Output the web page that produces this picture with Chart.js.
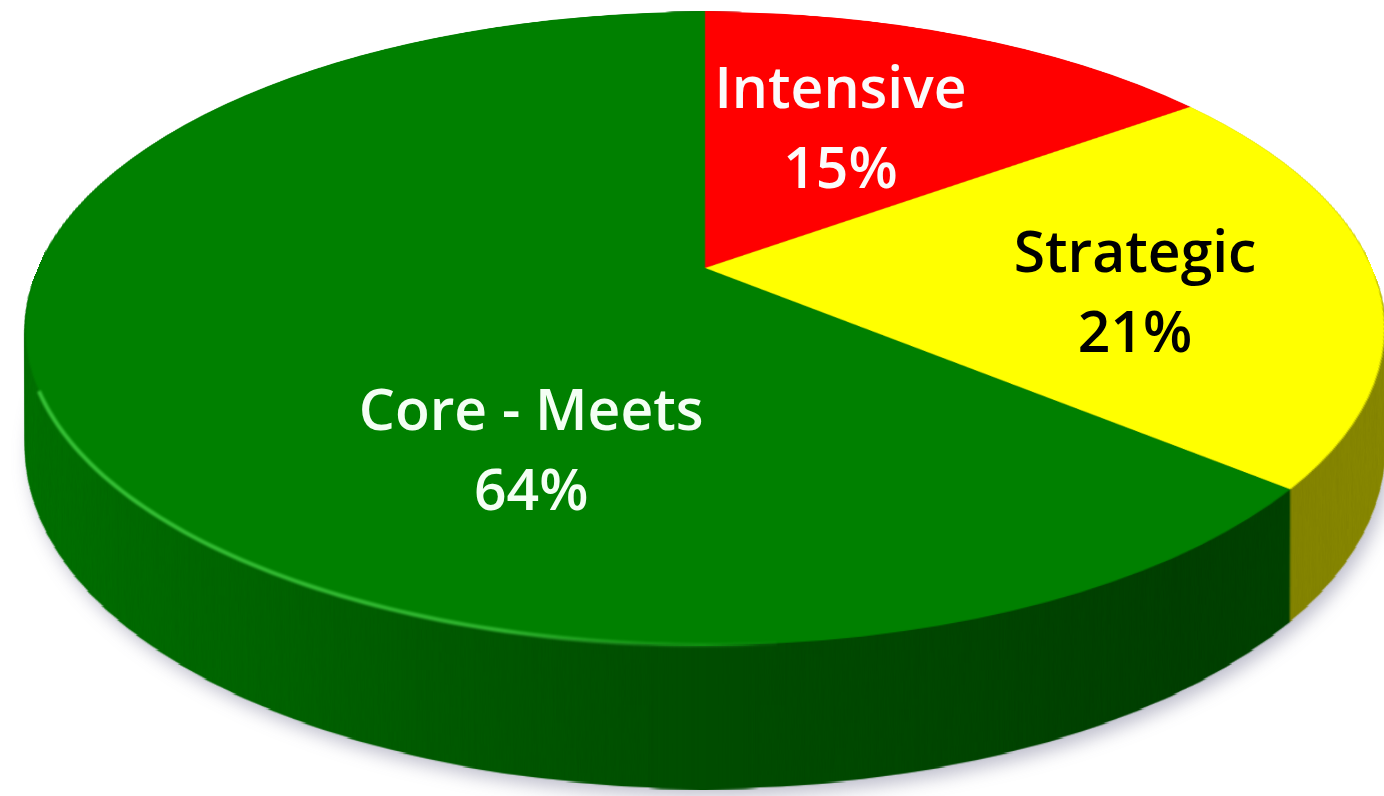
<!DOCTYPE html>
<html>
<head>
<meta charset="utf-8">
<script src="https://cdn.jsdelivr.net/npm/chart.js@4.4.1/dist/chart.umd.min.js"></script>
<style>
    html, body { margin: 0; padding: 0; background: #ffffff; }
    #wrap { width: 1384px; height: 796px; position: relative; }
</style>
</head>
<body>
<div id="wrap"><canvas id="pieCanvas"></canvas></div>
<script>
const categories = ['Intensive', 'Strategic', 'Core - Meets'];
const shares = [15, 21, 64];

const topColors = ['#ff0000', '#ffff00', '#008000'];
const labelColors = ['#fbfbfb', '#000000', '#f4fff4'];
// label spot per slice: [fraction along the slice angle, fraction of radius]
const labelSpots = [[0.45, 0.54], [0.58, 0.64], [0.32, 0.59]];

// tilted disc seen in perspective: centre, half axes, foreshortening, thickness
const view = { cx: 705, cy: 268, a: 667, b: 305, k: 0.191, depth: 116.5 };

function project(u, w) {
    const d = 1 / (1 + view.k * w);
    return { x: view.cx + view.a * u * d, y: view.cy - view.b * w * d, d: d };
}

function rowDepth(y) {
    const s = (view.cy - y) / view.b;
    return s / (1 - view.k * s);
}

// paint the flat pie (as laid out by Chart.js) into its own square canvas
function renderFlat(arcs, R, S, shaded) {
    const c = document.createElement('canvas');
    c.width = S;
    c.height = S;
    const g = c.getContext('2d');
    g.translate(R - arcs[0].x, R - arcs[0].y);
    arcs.forEach(a => a.draw(g));
    if (shaded) {
        g.setTransform(1, 0, 0, 1, 0, 0);
        g.globalCompositeOperation = 'source-atop';
        const grad = g.createLinearGradient(0, 0, S, 0);
        grad.addColorStop(0, 'rgba(0,0,0,0.10)');
        grad.addColorStop(0.22, 'rgba(0,0,0,0.22)');
        grad.addColorStop(0.5, 'rgba(0,0,0,0.40)');
        grad.addColorStop(0.8, 'rgba(0,0,0,0.50)');
        grad.addColorStop(1, 'rgba(0,0,0,0.46)');
        g.fillStyle = grad;
        g.fillRect(0, 0, S, S);
    }
    return c;
}

// copy the flat pie onto the chart row by row, squeezed into perspective
function warp(ctx, src, R, S, stretch) {
    const top = Math.floor(view.cy - view.b / (1 + view.k));
    const bottom = Math.ceil(view.cy + view.b / (1 - view.k));
    for (let y = top; y < bottom; y++) {
        const w0 = Math.min(1, rowDepth(y));
        const w1 = Math.max(-1, rowDepth(y + 1));
        if (w0 <= w1) continue;
        const sy = R * (1 - w0);
        const sh = R * (w0 - w1);
        const d = 1 / (1 + view.k * (w0 + w1) / 2);
        const h = stretch ? 1 + view.depth * d : 1;
        ctx.drawImage(src, 0, sy, S, sh, view.cx - view.a * d, y, 2 * view.a * d, h);
    }
}

function rimPath(ctx, drop, dx, dy, from, to) {
    ctx.beginPath();
    for (let i = from; i <= to; i += 1) {
        const t = i * Math.PI / 180;
        const p = project(Math.sin(t), Math.cos(t));
        const x = p.x + dx;
        const y = p.y + drop * p.d + dy;
        if (i === from) ctx.moveTo(x, y); else ctx.lineTo(x, y);
    }
}

function drawShadow(ctx) {
    ctx.save();
    ctx.filter = 'blur(9px)';
    ctx.fillStyle = 'rgba(70,70,110,0.35)';
    rimPath(ctx, view.depth, 5, 7, 0, 360);
    ctx.closePath();
    ctx.fill();
    ctx.restore();
}

// bevel highlight along the front-left edge of the top face
function drawRimLight(ctx) {
    ctx.save();
    ctx.filter = 'blur(0.8px)';
    const grad = ctx.createLinearGradient(20, 0, 820, 0);
    grad.addColorStop(0, 'rgba(55,195,55,1)');
    grad.addColorStop(0.6, 'rgba(50,185,50,0.95)');
    grad.addColorStop(1, 'rgba(40,170,40,0)');
    ctx.strokeStyle = grad;
    ctx.lineWidth = 4;
    rimPath(ctx, 0, 0, 0, 175, 248);
    ctx.stroke();
    ctx.restore();
}

function drawLabels(ctx, chart, arcs) {
    ctx.save();
    ctx.font = '600 57px "Open Sans"';
    ctx.textAlign = 'center';
    ctx.textBaseline = 'middle';
    arcs.forEach((arc, i) => {
        const [f, r] = labelSpots[i];
        const ang = arc.startAngle + f * (arc.endAngle - arc.startAngle);
        const p = project(r * Math.cos(ang), -r * Math.sin(ang));
        ctx.fillStyle = labelColors[i];
        ctx.fillText(chart.data.labels[i], p.x, p.y - 39);
        ctx.fillText(chart.data.datasets[0].data[i] + '%', p.x, p.y + 41);
    });
    ctx.restore();
}

const tiltedPie = {
    id: 'tiltedPie',
    beforeDatasetsDraw(chart) {
        const arcs = chart.getDatasetMeta(0).data;
        if (!arcs.length) return;
        const R = arcs[0].outerRadius;
        const S = Math.ceil(R * 2);
        const flat = renderFlat(arcs, R, S, false);
        const side = renderFlat(arcs, R, S, true);
        const ctx = chart.ctx;
        drawShadow(ctx);
        warp(ctx, side, R, S, true);
        warp(ctx, flat, R, S, false);
        drawRimLight(ctx);
        drawLabels(ctx, chart, arcs);
        return false;
    }
};

new Chart(document.getElementById('pieCanvas'), {
    type: 'pie',
    data: {
        labels: categories,
        datasets: [{
            data: shares,
            backgroundColor: topColors,
            borderWidth: 0
        }]
    },
    options: {
        responsive: true,
        maintainAspectRatio: false,
        animation: false,
        events: [],
        layout: { padding: 0 },
        plugins: {
            legend: { display: false },
            tooltip: { enabled: false }
        }
    },
    plugins: [tiltedPie]
});
</script>
</body>
</html>
